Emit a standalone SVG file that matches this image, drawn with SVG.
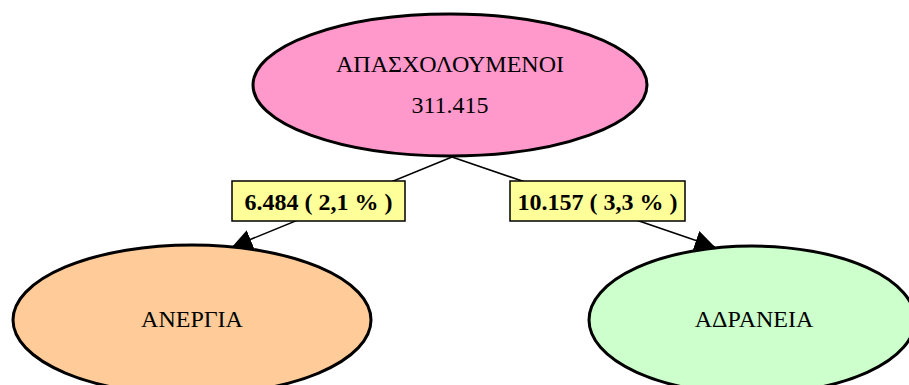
<svg xmlns="http://www.w3.org/2000/svg" width="909" height="385" viewBox="0 0 909 385">
<defs>
<style>
.node{stroke:#000;stroke-width:3}
.t{font-family:"Liberation Serif","Times New Roman",serif;font-size:24px;fill:#000;text-anchor:middle}
.lbl{fill:#FFFF99;stroke:#000;stroke-width:1.5}
.lt{font-family:"Liberation Serif","Times New Roman",serif;font-size:24px;font-weight:bold;fill:#000;text-anchor:middle}
.edge{stroke:#000;stroke-width:1.5;fill:none}
</style>
<marker id="ah" markerWidth="20" markerHeight="20" refX="20" refY="10" orient="auto" markerUnits="userSpaceOnUse">
<path d="M0,0 L20,10 L0,20 Z" fill="#000"/>
</marker>
</defs>
<g id="connectors">
<line class="edge" x1="452" y1="157" x2="232" y2="247" marker-end="url(#ah)"/>
<line class="edge" x1="452" y1="157" x2="715" y2="247" marker-end="url(#ah)"/>
<g id="label-anergia">
<rect class="lbl" x="232" y="181" width="173" height="40"/>
<text class="lt" x="318.5" y="210">6.484 ( 2,1 % )</text>
</g>
<g id="label-adraneia">
<rect class="lbl" x="510" y="181" width="175" height="40"/>
<text class="lt" x="597.5" y="210">10.157 ( 3,3 % )</text>
</g>
</g>
<g id="apasxoloumenoi">
<ellipse class="node" cx="450" cy="85" rx="197" ry="71" fill="#FF99CC"/>
<text class="t" x="450" y="72">ΑΠΑΣΧΟΛΟΥΜΕΝΟΙ</text>
<text class="t" x="450" y="113">311.415</text>
</g>
<g id="anergia">
<ellipse class="node" cx="192" cy="320" rx="179" ry="75" fill="#FFCC99"/>
<text class="t" x="192" y="327">ΑΝΕΡΓΙΑ</text>
</g>
<g id="adraneia">
<ellipse class="node" cx="752" cy="320" rx="163" ry="74" fill="#CCFFCC"/>
<text class="t" x="754" y="327">ΑΔΡΑΝΕΙΑ</text>
</g>
</svg>
